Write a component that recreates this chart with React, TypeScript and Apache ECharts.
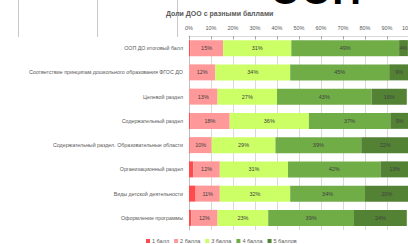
import React, { useEffect, useRef } from "react";
import * as echarts from "echarts";

const categories = [
  "ООП ДО итоговый балл",
  "Соответствие принципам дошкольного образования ФГОС ДО",
  "Целевой раздел",
  "Содержательный раздел",
  "Содержательный раздел. Образовательные области",
  "Организационный раздел",
  "Виды детской деятельности",
  "Оформление программы",
];
const seriesNames = ["1 балл", "2 балла", "3 балла", "4 балла", "5 баллов"];
const ball1 = [0.5, 0, 0, 0.5, 0.3, 2, 3, 1];
const ball2 = [15, 12, 13, 18, 10, 12, 11, 12];
const ball3 = [31, 34, 27, 36, 29, 31, 32, 23];
const ball4 = [49, 45, 43, 37, 39, 42, 34, 39];
const ball5 = [4, 9, 16, 9, 22, 13, 20, 24];
const xTicks = [0, 10, 20, 30, 40, 50, 60, 70, 80, 90, 100];
const colors = ["#FF4B4B", "#FF9999", "#CCFF66", "#70AD47", "#548235"];

const FONT = "'Liberation Sans', Arial, sans-serif";

export default function App() {
  const ref = useRef<HTMLDivElement>(null);
  useEffect(() => {
    if (!ref.current) return;
    const chart = echarts.init(ref.current, null, { renderer: "svg" });
    const data = [ball1, ball2, ball3, ball4, ball5];
    chart.setOption({
      animation: false,
      backgroundColor: "#ffffff",
      textStyle: { fontFamily: FONT },
      title: {
        text: "Доли ДОО с разными баллами",
        left: 166,
        top: 10,
        padding: 0,
        textStyle: { fontSize: 7, fontWeight: "bold", color: "#595959", fontFamily: FONT },
      },
      legend: {
        data: seriesNames,
        left: 146,
        top: 238,
        padding: 0,
        itemWidth: 4,
        itemHeight: 4,
        itemGap: 5,
        icon: "rect",
        textStyle: { fontSize: 5.5, color: "#595959", fontFamily: FONT, padding: [0, 0, 0, -3] },
      },
      grid: { left: 189, top: 36, width: 220, height: 194, outerBoundsMode: "none", containLabel: false },
      xAxis: {
        type: "value",
        position: "top",
        min: xTicks[0],
        max: xTicks[xTicks.length - 1],
        interval: 10,
        axisLabel: {
          formatter: "{value}%",
          fontSize: 5.5,
          color: "#595959",
          margin: 5,
          fontFamily: FONT,
        },
        axisLine: { show: true, lineStyle: { color: "#d9d9d9", width: 1 } },
        axisTick: { show: true, inside: true, length: 3, lineStyle: { color: "#a6a6a6" } },
        splitLine: { show: true, lineStyle: { color: "#d9d9d9", width: 1 } },
      },
      yAxis: {
        type: "category",
        inverse: true,
        data: categories,
        axisLine: { show: true, lineStyle: { color: "#bfbfbf" } },
        axisTick: { show: false },
        axisLabel: { fontSize: 5.3, color: "#595959", margin: 6, fontFamily: FONT },
      },
      series: seriesNames.map((name, i) => ({
        name,
        type: "bar",
        stack: "total",
        barWidth: 16,
        data: data[i],
        itemStyle: { color: colors[i] },
        label: {
          show: i > 0,
          position: "inside",
          fontSize: 5.5,
          color: "#404040",
          fontFamily: FONT,
          formatter: (p: any) => (p.value > 0 ? Math.round(p.value) + "%" : ""),
        },
      })),
      graphic: [
        { type: "line", shape: { x1: 18.5, y1: 0, x2: 18.5, y2: 37 }, style: { stroke: "#c8c8c8", lineWidth: 1 } },
        { type: "line", shape: { x1: 97.5, y1: 0, x2: 97.5, y2: 37 }, style: { stroke: "#c8c8c8", lineWidth: 1 } },
        { type: "line", shape: { x1: 177.5, y1: 0, x2: 177.5, y2: 37 }, style: { stroke: "#c8c8c8", lineWidth: 1 } },
        {
          type: "text",
          x: 270,
          y: 10,
          style: {
            text: "ООП",
            font: "bold 40px 'Liberation Sans', Arial, sans-serif",
            fill: "#000000",
            verticalAlign: "bottom",
          },
        },
      ],
    });
    return () => chart.dispose();
  }, []);
  return (
    <div
      ref={ref}
      style={{ position: "fixed", left: 0, top: 0, width: 408, height: 244 }}
    />
  );
}
